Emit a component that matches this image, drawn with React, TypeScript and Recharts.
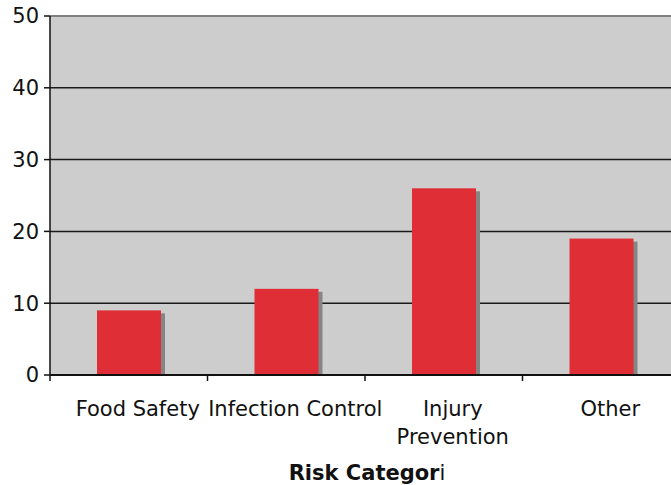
import React from 'react';
import {
  BarChart,
  Bar,
  XAxis,
  YAxis,
  CartesianGrid,
  ReferenceLine,
  Label
} from 'recharts';

// chart values
const categories = ['Food Safety', 'Infection Control', 'Injury\nPrevention', 'Other'];
const counts = [9, 12, 26, 19];
const yTicks = [0, 10, 20, 30, 40, 50];

const data = categories.map((c, i) => ({ name: c, count: counts[i] }));

const FONT = '"DejaVu Sans", Verdana, sans-serif';

// bar with a grey drop shadow down and to the right
const ShadowBar = (props: any) => {
  const { x, y, width, height } = props;
  if (!height || height <= 0) return null;
  return (
    <g>
      <rect x={x + 4} y={y + 3} width={width} height={Math.max(height - 3, 0)} fill="#858585" />
      <rect x={x} y={y} width={width} height={height} fill="#df2e36" />
    </g>
  );
};

// label centred in the band, tick mark on the band's left edge
const CategoryTick = (props: any) => {
  const { x, y, payload } = props;
  const lines = String(payload.value).split('\n');
  const half = payload.offset || 0;
  return (
    <g>
      {half > 0 && (
        <line x1={x - half} x2={x - half} y1={y} y2={y + 6} stroke="#111" strokeWidth={1.5} />
      )}
      <text x={x + 9} y={y} textAnchor="middle" fontFamily={FONT} fontSize={21} fill="#111">
        {lines.map((l, i) => (
          <tspan key={i} x={x + 9} dy={i === 0 ? 41 : 28}>{l}</tspan>
        ))}
      </text>
    </g>
  );
};

const AxisTitle = (props: any) => {
  const { viewBox } = props;
  const cx = viewBox.x + viewBox.width / 2;
  return (
    <text x={cx + 2} y={480} textAnchor="middle" fontFamily={FONT} fontSize={21} fill="#111">
      <tspan fontWeight="bold">Risk Categor</tspan>
      <tspan>i</tspan>
    </text>
  );
};

export default function App() {
  return (
    <div style={{ position: 'absolute', left: 0, top: 0, width: 671, height: 485, overflow: 'hidden', background: '#fff' }}>
      <BarChart
        width={690}
        height={485}
        data={data}
        margin={{ top: 16, right: 10, bottom: 0, left: 0 }}
      >
        <CartesianGrid vertical={false} fill="#cdcdcd" stroke="#1a1a1a" strokeWidth={1.5} />
        <XAxis
          dataKey="name"
          height={110}
          interval={0}
          tickLine={false}
          tickSize={0}
          tickMargin={0}
          axisLine={{ stroke: '#111', strokeWidth: 2 }}
          tick={<CategoryTick />}
        >
          <Label content={<AxisTitle />} />
        </XAxis>
        <YAxis
          width={50}
          domain={[0, 50]}
          ticks={yTicks}
          interval={0}
          tickSize={6}
          tickMargin={5}
          axisLine={{ stroke: '#111', strokeWidth: 1.5 }}
          tickLine={{ stroke: '#111', strokeWidth: 1.5 }}
          tick={{ fontFamily: FONT, fontSize: 21, fill: '#111' }}
        />
        <ReferenceLine y={50} stroke="#808080" strokeWidth={2} />
        <Bar dataKey="count" barSize={64} shape={<ShadowBar />} isAnimationActive={false} />
      </BarChart>
    </div>
  );
}
